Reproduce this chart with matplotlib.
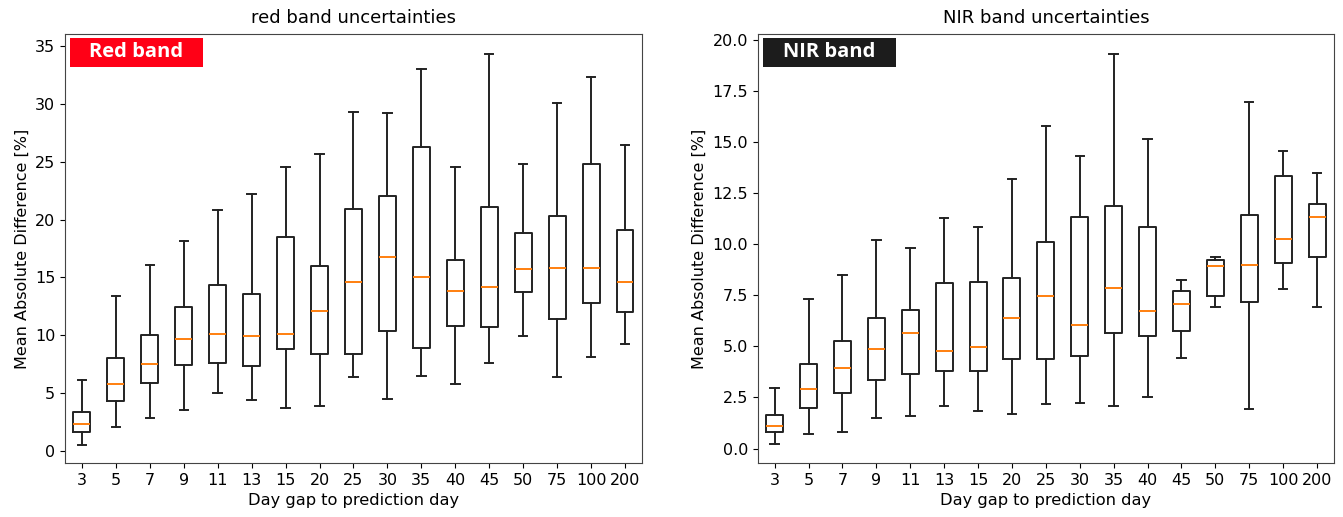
import matplotlib
matplotlib.use("Agg")
import matplotlib.pyplot as plt
from matplotlib.patches import Rectangle

gaps = ["3", "5", "7", "9", "11", "13", "15", "20", "25", "30", "35", "40", "45", "50", "75", "100", "200"]

red_min = [0.55, 2.1, 2.8, 3.5, 5.0, 4.4, 3.7, 3.9, 6.4, 4.5, 6.5, 5.8, 7.6, 9.9, 6.4, 8.1, 9.2]
red_q1 = [1.6, 4.3, 5.9, 7.4, 7.6, 7.3, 8.8, 8.4, 8.4, 10.4, 8.9, 10.8, 10.7, 13.7, 11.4, 12.8, 12.0]
red_med = [2.3, 5.8, 7.5, 9.7, 10.1, 9.9, 10.1, 12.1, 14.6, 16.8, 15.0, 13.8, 14.2, 15.7, 15.8, 15.8, 14.6]
red_q3 = [3.4, 8.0, 10.0, 12.4, 14.3, 13.6, 18.5, 16.0, 20.9, 22.0, 26.3, 16.5, 21.1, 18.8, 20.3, 24.8, 19.1]
red_max = [6.1, 13.4, 16.1, 18.1, 20.8, 22.2, 24.5, 25.7, 29.3, 29.2, 33.0, 24.5, 34.3, 24.8, 30.1, 32.3, 26.4]

nir_min = [0.2, 0.7, 0.8, 1.5, 1.6, 2.1, 1.85, 1.7, 2.2, 2.25, 2.1, 2.5, 4.45, 6.95, 1.95, 7.8, 6.95]
nir_q1 = [0.8, 2.0, 2.7, 3.35, 3.65, 3.8, 3.8, 4.4, 4.4, 4.55, 5.65, 5.5, 5.75, 7.45, 7.2, 9.1, 9.4]
nir_med = [1.1, 2.9, 3.95, 4.85, 5.65, 4.8, 4.95, 6.4, 7.45, 6.05, 7.85, 6.75, 7.1, 8.95, 9.0, 10.25, 11.35]
nir_q3 = [1.65, 4.15, 5.25, 6.4, 6.8, 8.1, 8.15, 8.35, 10.1, 11.35, 11.9, 10.85, 7.7, 9.25, 11.45, 13.35, 12.0]
nir_max = [2.95, 7.3, 8.5, 10.2, 9.8, 11.3, 10.85, 13.2, 15.8, 14.35, 19.3, 15.15, 8.25, 9.4, 16.95, 14.55, 13.5]


def make_stats(mins, q1s, meds, q3s, maxs, labels):
    return [dict(whislo=a, q1=b, med=c, q3=d, whishi=e, label=l, fliers=[])
            for a, b, c, d, e, l in zip(mins, q1s, meds, q3s, maxs, labels)]


fig = plt.figure(figsize=(13.43, 5.17), dpi=100)
ax1 = fig.add_axes([0.0484, 0.1044, 0.4296, 0.829])
ax2 = fig.add_axes([0.5642, 0.1044, 0.4291, 0.829])

panels = [
    (ax1, make_stats(red_min, red_q1, red_med, red_q3, red_max, gaps),
     "red band uncertainties", "Red band", "#ff0016"),
    (ax2, make_stats(nir_min, nir_q1, nir_med, nir_q3, nir_max, gaps),
     "NIR band uncertainties", "NIR band", "#1c1c1c"),
]

for ax, stats, title, tag, tagcol in panels:
    ax.bxp(stats, showfliers=False,
           boxprops=dict(color="#222222", linewidth=1.4),
           whiskerprops=dict(color="#222222", linewidth=1.4),
           capprops=dict(color="#222222", linewidth=1.4),
           medianprops=dict(color="#ff7f0e", linewidth=1.4))
    ax.set_title(title, fontsize=13, pad=8)
    ax.set_xlabel("Day gap to prediction day", fontsize=11.7)
    ax.set_ylabel("Mean Absolute Difference [%]", fontsize=11.5)
    ax.tick_params(labelsize=11.5)
    for s in ax.spines.values():
        s.set_color("#444444")
    ax.add_patch(Rectangle((0.0087, 0.925), 0.2305, 0.066, transform=ax.transAxes,
                           facecolor=tagcol, edgecolor="none", zorder=5))
    ax.text(0.0087 + 0.2305 / 2, 0.958, tag, transform=ax.transAxes,
            ha="center", va="center", color="white", fontsize=14.5, fontweight="bold",
            family="Open Sans", zorder=6)

ax1.set_ylim(-1.05, 36.0)
ax1.set_yticks([0, 5, 10, 15, 20, 25, 30, 35])
ax2.set_ylim(-0.71, 20.28)
ax2.set_yticks([0.0, 2.5, 5.0, 7.5, 10.0, 12.5, 15.0, 17.5, 20.0])
ax2.set_yticklabels(["0.0", "2.5", "5.0", "7.5", "10.0", "12.5", "15.0", "17.5", "20.0"])

fig.savefig("out.png", dpi=100)
